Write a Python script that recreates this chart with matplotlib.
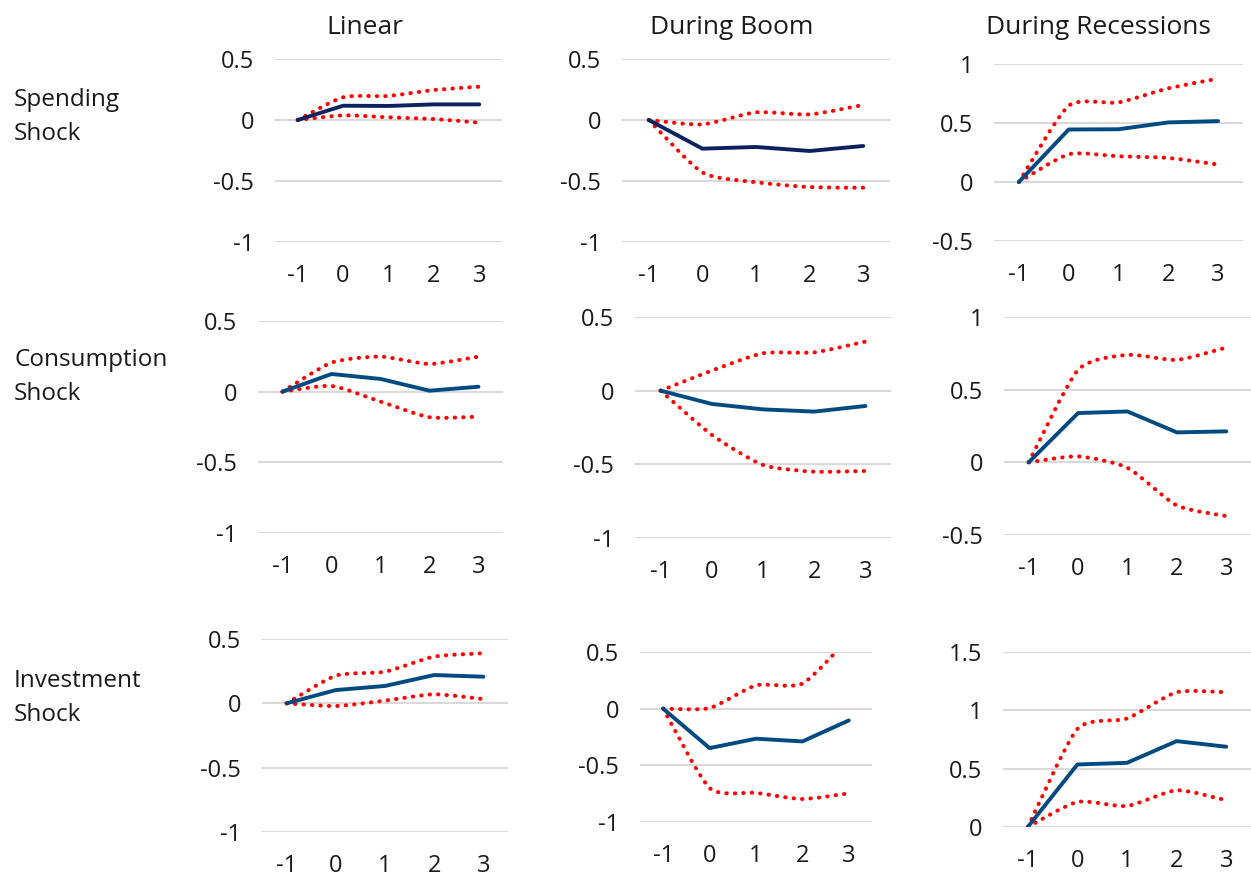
import numpy as np
import matplotlib.pyplot as plt
from matplotlib.path import Path
from matplotlib.patches import PathPatch

plt.rcParams['font.family'] = ['Open Sans', 'DejaVu Sans']
plt.rcParams['axes.unicode_minus'] = False

horizons = [-1, 0, 1, 2, 3]
col_titles = ["Linear", "During Boom", "During Recessions"]
row_titles = ["Spending\nShock", "Consumption\nShock", "Investment\nShock"]

# spending shock
spend_lin = [0, 0.117, 0.115, 0.128, 0.128]
spend_lin_hi = [0, 0.186, 0.197, 0.246, 0.273]
spend_lin_lo = [0, 0.038, 0.022, 0.008, -0.022]
spend_boom = [0, -0.235, -0.221, -0.254, -0.213]
spend_boom_hi = [0, -0.036, 0.063, 0.046, 0.123]
spend_boom_lo = [0, -0.43, -0.51, -0.55, -0.555]
spend_rec = [0, 0.445, 0.447, 0.505, 0.516]
spend_rec_hi = [0, 0.646, 0.674, 0.794, 0.876]
spend_rec_lo = [0, 0.235, 0.218, 0.204, 0.148]

# consumption shock
cons_lin = [0, 0.125, 0.09, 0.007, 0.035]
cons_lin_hi = [0, 0.205, 0.248, 0.196, 0.248]
cons_lin_lo = [0, 0.04, -0.07, -0.181, -0.177]
cons_boom = [0, -0.09, -0.127, -0.142, -0.104]
cons_boom_hi = [0, 0.136, 0.254, 0.26, 0.333]
cons_boom_lo = [0, -0.30, -0.504, -0.55, -0.545]
cons_rec = [0, 0.339, 0.35, 0.206, 0.213]
cons_rec_hi = [0, 0.636, 0.739, 0.705, 0.79]
cons_rec_lo = [0, 0.041, -0.038, -0.297, -0.37]

# investment shock
inv_lin = [0, 0.103, 0.135, 0.22, 0.207]
inv_lin_hi = [0, 0.215, 0.246, 0.363, 0.389]
inv_lin_lo = [0, -0.021, 0.021, 0.07, 0.033]
inv_boom = [0, -0.348, -0.265, -0.289, -0.104]
inv_boom_hi = [0, 0.005, 0.206, 0.221, 0.62]
inv_boom_lo = [0, -0.70, -0.743, -0.797, -0.747]
inv_rec = [0, 0.536, 0.55, 0.736, 0.688]
inv_rec_hi = [0, 0.84, 0.93, 1.155, 1.155]
inv_rec_lo = [0, 0.215, 0.18, 0.315, 0.229]

panels = [
    [(spend_lin, spend_lin_hi, spend_lin_lo), (spend_boom, spend_boom_hi, spend_boom_lo), (spend_rec, spend_rec_hi, spend_rec_lo)],
    [(cons_lin, cons_lin_hi, cons_lin_lo), (cons_boom, cons_boom_hi, cons_boom_lo), (cons_rec, cons_rec_hi, cons_rec_lo)],
    [(inv_lin, inv_lin_hi, inv_lin_lo), (inv_boom, inv_boom_hi, inv_boom_lo), (inv_rec, inv_rec_hi, inv_rec_lo)],
]
yticks = [
    [[-1, -0.5, 0, 0.5], [-1, -0.5, 0, 0.5], [-0.5, 0, 0.5, 1]],
    [[-1, -0.5, 0, 0.5], [-1, -0.5, 0, 0.5], [-0.5, 0, 0.5, 1]],
    [[-1, -0.5, 0, 0.5], [-1, -0.5, 0, 0.5], [0, 0.5, 1, 1.5]],
]

# axes boxes in pixels: left, right, top, bottom
boxes = [
    [(275, 502, 59, 242), (622, 890, 59, 242), (994, 1243, 64, 241)],
    [(258, 503, 321, 533), (635, 891, 317, 538), (1004, 1251, 317, 535)],
    [(262, 508, 639, 832), (640, 872, 652, 822), (1003, 1251, 652, 827)],
]
W, H = 1251, 877
blue_dark = '#0b2260'
blue = '#004a82'


def smooth_path(x, y, k=9.0):
    # bezier through the points, like excel's smoothed line
    p = np.column_stack([x, y]).astype(float)
    n = len(p)
    verts = [p[0]]
    codes = [Path.MOVETO]
    for i in range(n - 1):
        p0 = p[i - 1] if i > 0 else p[i]
        p3 = p[i + 2] if i + 2 < n else p[i + 1]
        c1 = p[i] + (p[i + 1] - p0) / k
        c2 = p[i + 1] - (p3 - p[i]) / k
        verts += [c1, c2, p[i + 1]]
        codes += [Path.CURVE4] * 3
    return Path(verts, codes)


fig = plt.figure(figsize=(W / 100, H / 100), dpi=100)

for r in range(3):
    for c in range(3):
        l, rr, t, b = boxes[r][c]
        ax = fig.add_axes([l / W, 1 - b / H, (rr - l) / W, (b - t) / H])
        mid, hi, lo = panels[r][c]
        yt = yticks[r][c]
        for v in yt:
            ax.axhline(v, color='#d9d9d9', lw=1.5, zorder=0)
        for band in (hi, lo):
            ax.add_patch(PathPatch(smooth_path(horizons, band), fill=False,
                                   edgecolor='#ff0000', lw=2.9,
                                   linestyle=(0, (0.1, 2.0)), capstyle='round'))
        col = blue_dark if (r == 0 and c < 2) else blue
        ax.plot(horizons, mid, color=col, lw=2.8, solid_capstyle='round')
        ax.set_xlim(-1.5, 3.5)
        ax.set_ylim(yt[0], yt[-1])
        ax.set_xticks(horizons)
        ax.set_yticks(yt)
        ax.set_yticklabels([f"{v:g}" for v in yt])
        ax.tick_params(length=0, labelsize=17, colors='#1a1a1a')
        ax.tick_params(axis='x', pad=16)
        ax.tick_params(axis='y', pad=15)
        for s in ax.spines.values():
            s.set_visible(False)
        ax.patch.set_alpha(0)

col_x = [365, 732, 1098]
for c in range(3):
    fig.text(col_x[c] / W, 1 - 28 / H, col_titles[c], ha='center', va='center',
             fontsize=19, color='#1a1a1a')

row_y = [117, 377, 698]
for r in range(3):
    fig.text(14 / W, 1 - row_y[r] / H, row_titles[r], ha='left', va='center',
             fontsize=17.5, color='#1a1a1a', linespacing=1.55)

fig.savefig('out.png', dpi=100)
